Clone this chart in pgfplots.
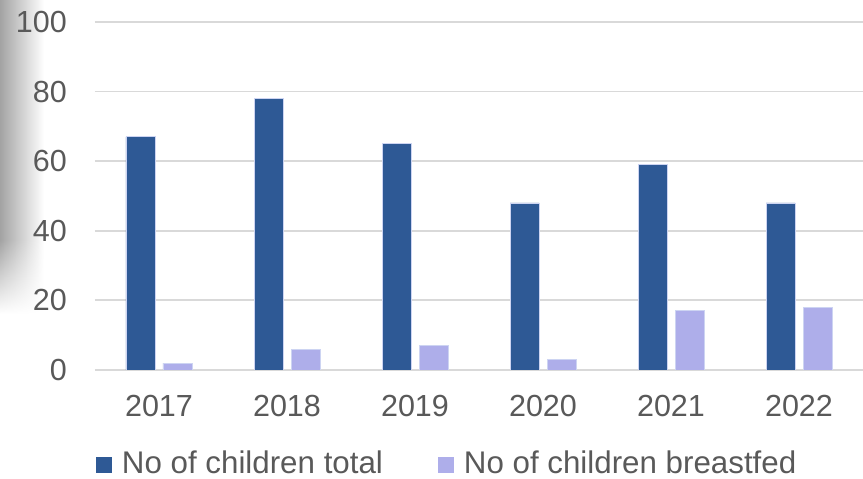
\documentclass[border=0pt]{standalone}
\usepackage{fontspec}
\setmainfont{Liberation Sans}
\usepackage{pgfplots}
\pgfplotsset{compat=1.18}
\usetikzlibrary{fadings}
\tikzfading[name=fadedown, top color=transparent!0, bottom color=transparent!100]
\definecolor{cTotal}{RGB}{46,89,149}
\definecolor{cBreast}{RGB}{174,174,234}
\definecolor{cText}{RGB}{89,89,89}
\definecolor{cGrid}{RGB}{217,217,217}
\definecolor{cEdge}{RGB}{205,212,242}
\begin{document}
\begin{tikzpicture}[x=1pt,y=1pt]
\path[use as bounding box] (0,0) rectangle (863,479);
\shade[left color=black!36, right color=white] (0,239) rectangle (44,479);
\shade[left color=black!36, right color=white, path fading=fadedown] (0,165) rectangle (44,239);
\begin{axis}[
  at={(95pt,109pt)}, anchor=south west,
  scale only axis, width=768pt, height=348pt,
  ybar=8pt, bar width=29pt,
  xmin=-0.5, xmax=5.5, ymin=0, ymax=100,
  xtick={0,1,2,3,4,5},
  xticklabels={2017,2018,2019,2020,2021,2022},
  ytick={0,20,40,60,80,100},
  /pgf/number format/assume math mode=true,
  ymajorgrids, grid style={cGrid, line width=1.8pt},
  axis line style={draw=none}, major tick length=0pt,
  tick label style={font=\fontsize{30.5}{36}\selectfont, text=cText, inner sep=0pt},
  xticklabel style={anchor=north, yshift=-25pt},
  yticklabel style={anchor=east, xshift=-28pt},
  legend columns=2,
  legend style={at={(0.0013,-0.233)}, anchor=north west, draw=none, fill=none,
    inner sep=0pt, outer sep=0pt,
    font=\fontsize{31.3}{36}\selectfont, text=cText,
    nodes={inner sep=0pt},
    /tikz/every odd column/.append style={column sep=10pt},
    /tikz/every even column/.append style={column sep=55pt}},
  legend image code/.code={\fill[#1,draw=none] (0pt,-10pt) rectangle (16pt,6pt);},
]
\addplot[fill=cTotal, draw=cEdge, line width=0.7pt] coordinates {(0,67) (1,78) (2,65) (3,48) (4,59) (5,48)};
\addplot[fill=cBreast, draw=cEdge, line width=0.7pt] coordinates {(0,2) (1,6) (2,7) (3,3) (4,17) (5,18)};
\legend{No of children total, No of children breastfed}
\end{axis}
\end{tikzpicture}
\end{document}
